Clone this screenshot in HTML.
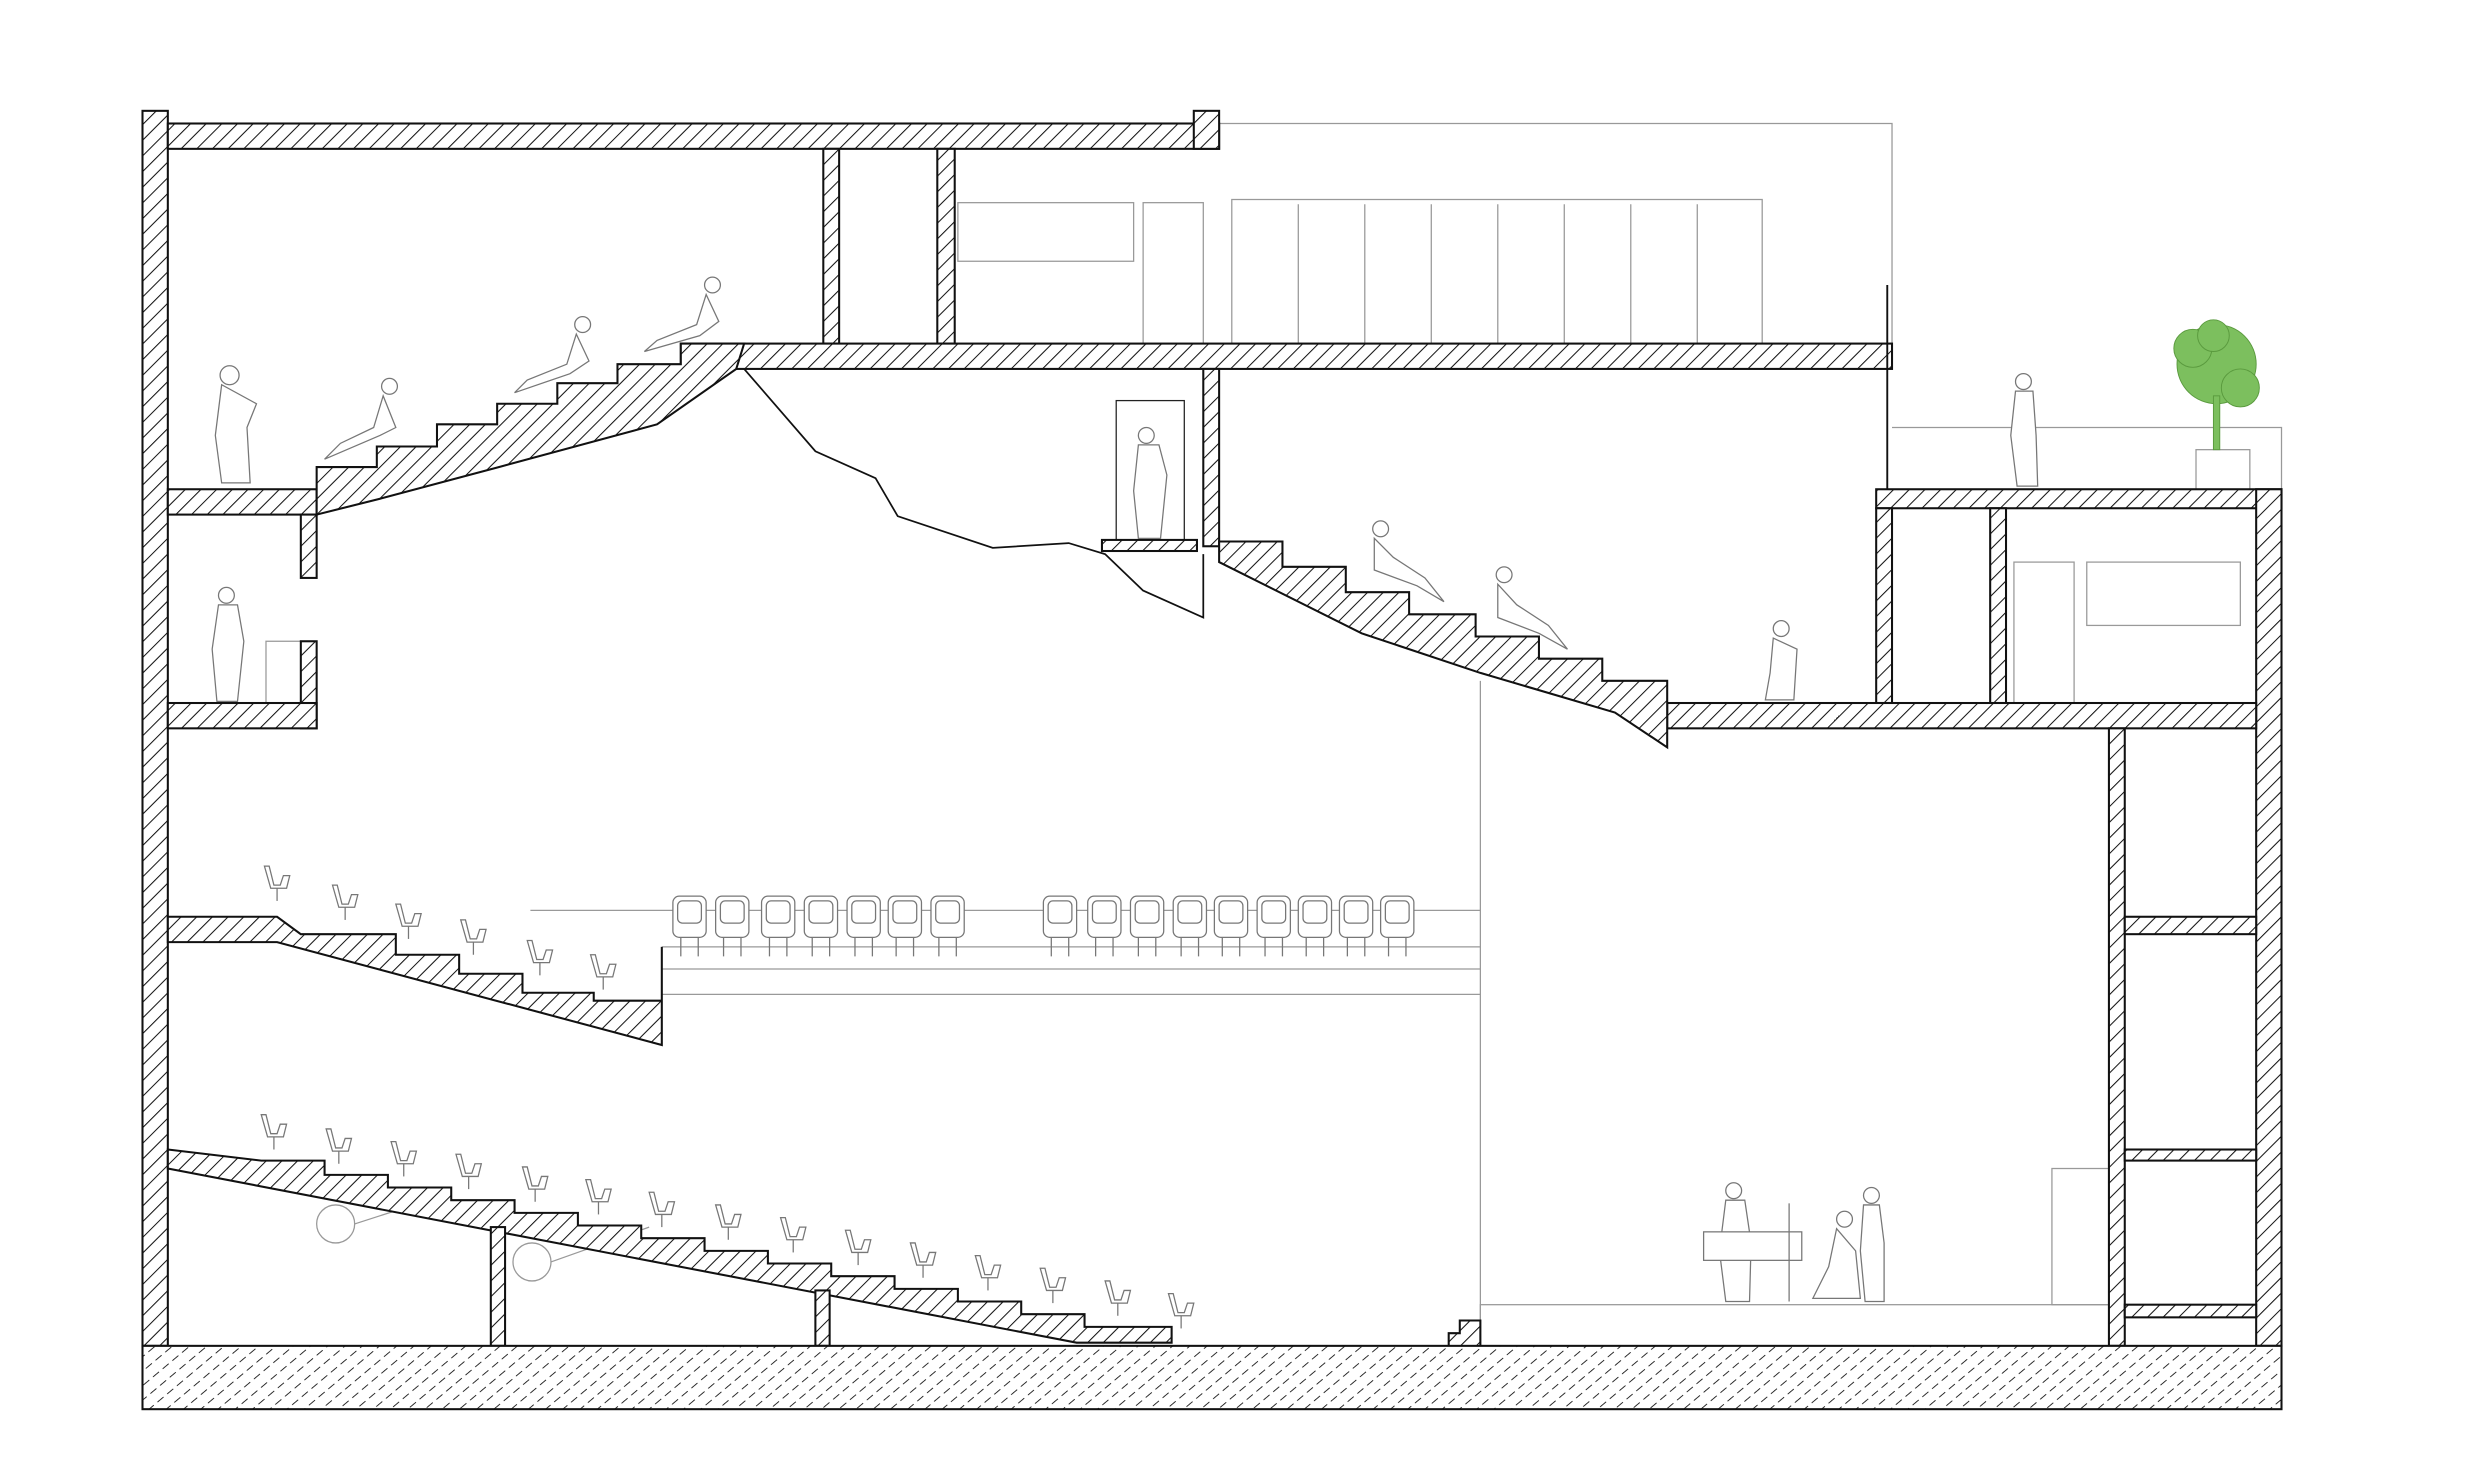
<!DOCTYPE html>
<html><head><meta charset="utf-8"><style>
html,body{margin:0;padding:0;background:#fff;}
svg{display:block;}
</style></head><body>
<svg width="2481" height="1476" viewBox="0 0 1567 932.2" preserveAspectRatio="none" xmlns="http://www.w3.org/2000/svg">
<defs>
<pattern id="h" patternUnits="userSpaceOnUse" width="7" height="7" patternTransform="rotate(45)">
<rect width="7" height="7" fill="#fff"/><line x1="0" y1="0" x2="0" y2="7" stroke="#111" stroke-width="1.3"/></pattern>
<pattern id="g" patternUnits="userSpaceOnUse" width="7" height="8" patternTransform="rotate(50)">
<rect width="7" height="8" fill="#fff"/><line x1="0" y1="0" x2="0" y2="5" stroke="#111" stroke-width="1.1"/></pattern>
<g id="st" stroke="#777" stroke-width="0.8" fill="#fff"><rect x="0" y="0" width="21" height="26" rx="4"/><rect x="3" y="3" width="15" height="14" rx="3"/><path d="M5,26 V38 M16,26 V38"/></g>
<g id="sm" stroke="#777" stroke-width="0.8" fill="#fff"><path d="M0,0 L4,14 H14 L16,6 L12,6 L10,12 H6 L3,0 Z"/><path d="M8,14 V22"/></g>
</defs>
<g stroke="#999" stroke-width="0.8" fill="none">
<path d="M770,78 H1195 V217"/>
<rect x="605" y="128" width="111" height="37"/>
<rect x="722" y="128" width="38" height="89"/>
<rect x="778" y="126" width="335" height="91"/>
<path d="M820,129V217 M862,129V217 M904,129V217 M946,129V217 M988,129V217 M1030,129V217 M1072,129V217"/>
<path d="M1195,270 H1441 V309"/>
<rect x="1272" y="355" width="38" height="89"/>
<rect x="1318" y="355" width="97" height="40"/>
<rect x="1387" y="284" width="34" height="25"/>
<path d="M935,430 V850"/>
<rect x="935" y="824" width="397" height="26"/>
<rect x="1296" y="738" width="36" height="86"/>
<path d="M335,575 H935 M418,628 H935 M418,612 H935 M418,598 H935"/>
<rect x="168" y="405" width="22" height="39"/>
<circle cx="212" cy="773" r="12"/><circle cx="336" cy="797" r="12"/>
<path d="M224,773 L280,755 M348,797 L410,775"/>
<rect x="705" y="253" width="43" height="88" stroke="#222"/>
</g>
<g stroke="#111" stroke-width="1.3" fill="url(#h)">
<rect x="90" y="70" width="16" height="780"/>
<rect x="106" y="78" width="664" height="16"/>
<rect x="754" y="70" width="16" height="24"/>
<rect x="520" y="94" width="10" height="123"/>
<rect x="592" y="94" width="11" height="123"/>
<rect x="430" y="217" width="765" height="16"/>
<rect x="760" y="233" width="10" height="112"/>
<rect x="106" y="309" width="94" height="16"/>
<rect x="190" y="325" width="10" height="40"/>
<rect x="190" y="405" width="10" height="55"/>
<rect x="106" y="444" width="94" height="16"/>
<rect x="1185" y="309" width="256" height="12"/>
<rect x="1185" y="321" width="10" height="123"/>
<rect x="1257" y="321" width="10" height="123"/>
<rect x="1425" y="309" width="16" height="541"/>
<rect x="1053" y="444" width="372" height="16"/>
<rect x="1332" y="460" width="10" height="390"/>
<rect x="1342" y="579" width="83" height="11"/>
<rect x="1342" y="726" width="83" height="7"/>
<rect x="1342" y="824" width="83" height="8"/>
<rect x="696" y="341" width="60" height="7"/>
<path d="M200,309 V295 H238 V282 H276 V268 H314 V255 H352 V242 H390 V230 H430 V217 H470 L465,233 L415,268 L315,295 L240,315 L200,325 Z"/>
<path d="M770,342 H810 V358 H850 V374 H890 V388 H932 V402 H972 V416 H1012 V430 H1053 V472 L1020,450 L935,425 L860,400 L770,355 Z"/>
<path d="M106,579 H175 L190,590 H250 V603 H290 V615 H330 V627 H375 V632 H418 V598 V660 L175,595 H106 Z"/>
<path d="M106,726 L165,733 h40 v9 h40 v8 h40 v8 h40 v8 h40 v8 h40 v8 h40 v8 h40 v8 h40 v8 h40 v8 h40 v8 h40 v8 h40 v8 h55 v10 H680 L106,738 Z"/>
<rect x="310" y="775" width="9" height="75"/>
<rect x="515" y="815" width="9" height="35"/>
<path d="M915,850 V842 H922 V834 H935 V850"/>
</g>
<rect x="90" y="850" width="1351" height="40" fill="url(#g)" stroke="#111" stroke-width="1.3"/>
<path d="M470,233 L515,285 L553,302 L567,326 L627,346 L675,343 L698,350 L722,373 L760,390 L760,350" stroke="#111" stroke-width="1.1" fill="none"/>
<path d="M1192,180 V309" stroke="#111" stroke-width="1.2"/>
<g stroke="#777" stroke-width="0.8" fill="#fff">
<g><circle cx="145" cy="237" r="6"/><path d="M140,243 L136,275 L140,305 L158,305 L156,270 L162,255 Z"/></g>
<g><circle cx="246" cy="244" r="5"/><path d="M242,250 L236,270 L215,280 L205,290 L240,275 L250,270 Z"/></g>
<g><circle cx="368" cy="205" r="5"/><path d="M364,211 L358,230 L333,240 L325,248 L360,236 L372,228 Z"/></g>
<g><circle cx="450" cy="180" r="5"/><path d="M446,186 L440,205 L415,215 L407,222 L442,212 L454,203 Z"/></g>
<g><circle cx="143" cy="376" r="5"/><path d="M138,382 L134,410 L137,443 L150,443 L154,405 L150,382 Z"/></g>
<g><circle cx="724" cy="275" r="5"/><path d="M719,281 L716,310 L719,340 L733,340 L737,300 L732,281 Z"/></g>
<g><circle cx="872" cy="334" r="5"/><path d="M868,340 L868,360 L895,370 L912,380 L900,365 L880,352 Z"/></g>
<g><circle cx="950" cy="363" r="5"/><path d="M946,369 L946,390 L972,400 L990,410 L978,395 L958,382 Z"/></g>
<g><circle cx="1125" cy="397" r="5"/><path d="M1120,403 L1118,425 L1115,442 L1133,442 L1135,410 Z"/></g>
<g><circle cx="1278" cy="241" r="5"/><path d="M1273,247 L1270,275 L1274,307 L1287,307 L1286,275 L1284,247 Z"/></g>
<g><circle cx="1095" cy="752" r="5"/><path d="M1090,758 L1086,790 L1090,822 L1105,822 L1106,785 L1102,758 Z"/></g>
<g><circle cx="1182" cy="755" r="5"/><path d="M1177,761 L1175,790 L1178,822 L1190,822 L1190,785 L1187,761 Z"/></g>
<g><circle cx="1165" cy="770" r="5"/><path d="M1160,776 L1155,800 L1145,820 L1175,820 L1172,790 Z"/></g>
<rect x="1076" y="778" width="62" height="18"/>
<path d="M1130,760 V822"/>
</g>
<g fill="#7cbf5e" stroke="#5a9a3e" stroke-width="0.6">
<circle cx="1400" cy="230" r="25"/><circle cx="1385" cy="220" r="12"/><circle cx="1415" cy="245" r="12"/><circle cx="1398" cy="212" r="10"/>
<rect x="1398" y="250" width="4" height="34"/>
</g>
<use href="#st" x="425" y="566"/><use href="#st" x="452" y="566"/><use href="#st" x="481" y="566"/><use href="#st" x="508" y="566"/><use href="#st" x="535" y="566"/><use href="#st" x="561" y="566"/><use href="#st" x="588" y="566"/>
<use href="#st" x="659" y="566"/><use href="#st" x="687" y="566"/><use href="#st" x="714" y="566"/><use href="#st" x="741" y="566"/><use href="#st" x="767" y="566"/><use href="#st" x="794" y="566"/><use href="#st" x="820" y="566"/><use href="#st" x="846" y="566"/><use href="#st" x="872" y="566"/>
<use href="#sm" x="167" y="547"/><use href="#sm" x="210" y="559"/><use href="#sm" x="250" y="571"/><use href="#sm" x="291" y="581"/><use href="#sm" x="333" y="594"/><use href="#sm" x="373" y="603"/>
<use href="#sm" x="165" y="704"/><use href="#sm" x="206" y="713"/><use href="#sm" x="247" y="721"/><use href="#sm" x="288" y="729"/><use href="#sm" x="330" y="737"/><use href="#sm" x="370" y="745"/><use href="#sm" x="410" y="753"/><use href="#sm" x="452" y="761"/><use href="#sm" x="493" y="769"/><use href="#sm" x="534" y="777"/><use href="#sm" x="575" y="785"/><use href="#sm" x="616" y="793"/><use href="#sm" x="657" y="801"/><use href="#sm" x="698" y="809"/><use href="#sm" x="738" y="817"/>
</svg>
</body></html>
